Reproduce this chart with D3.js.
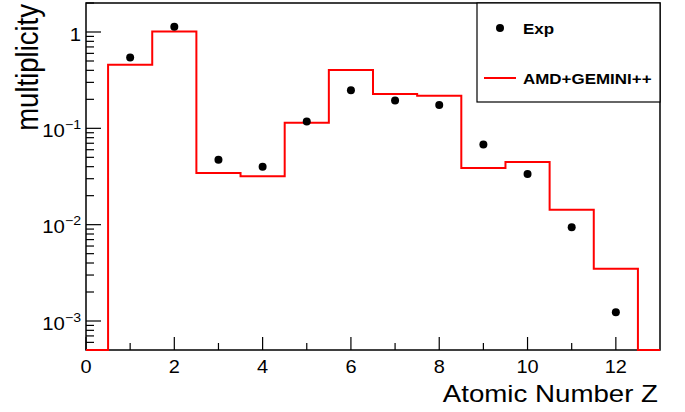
<!DOCTYPE html>
<html><head><meta charset="utf-8">
<script src="https://cdn.jsdelivr.net/npm/d3@7"></script>
<style>body{margin:0;background:#fff} text{font-family:"Liberation Sans",Arial,Helvetica,sans-serif;fill:#000}</style>
</head>
<body><svg id="c" width="685" height="412"></svg>
<script>
const atomicZ = [1,2,3,4,5,6,7,8,9,10,11,12];
const expMultiplicity = [0.545,1.135,0.0473,0.040,0.118,0.248,0.194,0.175,0.0678,0.0336,0.0094,0.00123];
const amdGeminiMultiplicity = [0.458,1.01,0.0344,0.0318,0.1146,0.403,0.2275,0.218,0.0388,0.0448,0.01425,0.00348];
const xTickValues = [0,2,4,6,8,10,12];
const xMinorTickValues = [1,3,5,7,9,11];
const yTickExponents = [-3,-2,-1,0];
const legendLabels = ["Exp","AMD+GEMINI++"];

const svg = d3.select("#c");
const L = 86, R = 660, T = 3, B = 350;
const SX = 1.13; // horizontal text stretch
const x = d3.scaleLinear().domain([0,13]).range([L,R]);
const y = d3.scaleLog().domain([5e-4,2]).range([B,T]);

svg.append("rect").attr("width",685).attr("height",412).attr("fill","#fff");

// frame
svg.append("rect").attr("x",L).attr("y",T).attr("width",R-L).attr("height",B-T)
  .attr("fill","none").attr("stroke","#000").attr("stroke-width",1.5);

// x ticks
const gx = svg.append("g");
xTickValues.forEach(v=>{
  gx.append("line").attr("x1",x(v)).attr("x2",x(v)).attr("y1",B).attr("y2",B-13).attr("stroke","#000").attr("stroke-width",1.2);
  gx.append("text").attr("transform",`translate(${x(v)},373) scale(1.05,1)`).attr("text-anchor","middle")
    .attr("font-size",19).text(v);
});
xMinorTickValues.forEach(v=>{
  gx.append("line").attr("x1",x(v)).attr("x2",x(v)).attr("y1",B).attr("y2",B-7).attr("stroke","#000").attr("stroke-width",1.2);
});

// y ticks
const gy = svg.append("g");
yTickExponents.forEach(e=>{
  const v = Math.pow(10,e);
  gy.append("line").attr("x1",L).attr("x2",L+15).attr("y1",y(v)).attr("y2",y(v)).attr("stroke","#000").attr("stroke-width",1.2);
  const t = gy.append("text").attr("transform",`translate(81,${y(v)+8.7}) scale(${SX},1)`).attr("text-anchor","end").attr("font-size",18);
  if(e===0){ t.text("1"); }
  else {
    t.append("tspan").text("10");
    t.append("tspan").attr("dy",-8).attr("font-size",12.5).text("\u2212"+(-e));
  }
});
// minor y ticks
for(let e=-4;e<=0;e++){
  for(let m=2;m<=9;m++){
    const v = m*Math.pow(10,e);
    if(v<5e-4 || v>2) continue;
    gy.append("line").attr("x1",L).attr("x2",L+8).attr("y1",y(v)).attr("y2",y(v)).attr("stroke","#000").attr("stroke-width",1.2);
  }
}

// histogram
const yMin = y.domain()[0];
const stepPts = [[0,yMin]].concat(atomicZ.map((z,i)=>[z-0.5, amdGeminiMultiplicity[i]]))
  .concat([[12.5,yMin],[13,yMin]]);
const line = d3.line().x(d=>x(d[0])).y(d=>y(Math.max(d[1],yMin))).curve(d3.curveStepAfter);
svg.append("path").attr("d",line(stepPts)).attr("fill","none").attr("stroke","#ff0000").attr("stroke-width",2);

// points
svg.append("g").selectAll("circle").data(atomicZ).join("circle")
  .attr("cx",(d)=>x(d)).attr("cy",(d,i)=>y(expMultiplicity[i])).attr("r",4).attr("fill","#000");

// axis titles
svg.append("text").attr("transform",`translate(658,402) scale(${SX},1)`).attr("text-anchor","end")
  .attr("font-size",24.5).text("Atomic Number Z");
svg.append("text").attr("transform",`translate(38,4) scale(${SX},1) rotate(-90)`).attr("text-anchor","end")
  .attr("font-size",27.5).text("multiplicity");

// legend
const lg = svg.append("g");
lg.append("rect").attr("x",477).attr("y",T).attr("width",R-477).attr("height",102-T)
  .attr("fill","#fff").attr("stroke","#000").attr("stroke-width",1.2);
lg.append("circle").attr("cx",500).attr("cy",28).attr("r",4).attr("fill","#000");
lg.append("text").attr("transform",`translate(523,34) scale(${SX},1)`).attr("font-size",15).attr("font-weight","bold").text(legendLabels[0]);
lg.append("line").attr("x1",484).attr("x2",516).attr("y1",78).attr("y2",78).attr("stroke","#ff0000").attr("stroke-width",2);
lg.append("text").attr("transform",`translate(523,84) scale(${SX},1)`).attr("font-size",15).attr("font-weight","bold").text(legendLabels[1]);
</script>
</body></html>
